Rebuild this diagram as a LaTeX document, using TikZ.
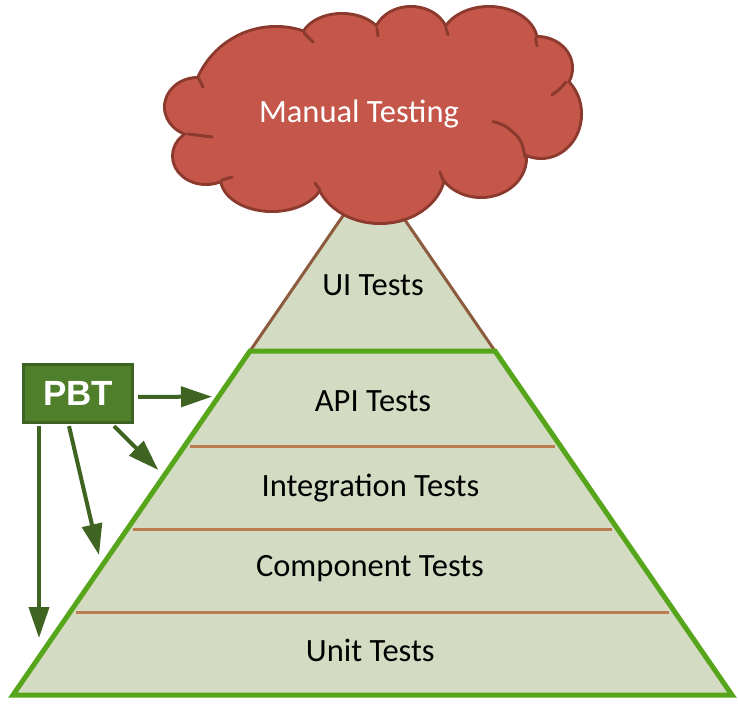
\documentclass[tikz,border=0pt]{standalone}
\usepackage{fontspec}
\setmainfont{Carlito}
\newfontfamily\pbtfont{Liberation Sans}
\usetikzlibrary{arrows.meta,calc}
\definecolor{pyrfill}{HTML}{D4DBC3}
\definecolor{pyrgreen}{HTML}{56A51A}
\definecolor{pyrbrown}{HTML}{8C5A3C}
\definecolor{layerline}{HTML}{BA7D4E}
\definecolor{cloudfill}{HTML}{C5574A}
\definecolor{cloudline}{HTML}{8C3A2E}
\definecolor{pbtfill}{HTML}{4F7F2B}
\definecolor{pbtline}{HTML}{3D6322}
\definecolor{arrowgreen}{HTML}{3F6320}
\begin{document}
\begin{tikzpicture}[x=1pt,y=-1pt,
  layerlabel/.style={anchor=base, inner sep=0pt, text=black, font=\fontsize{32.5}{39}\selectfont},
  cloudtext/.style={anchor=base, inner sep=0pt, text=white, font=\fontsize{32.5}{39}\selectfont},
  layersep/.style={draw=layerline, line width=3pt},
  cloudtail/.style={draw=cloudline, line width=3pt, line cap=round},
  pbtbox/.style={draw=pbtline, fill=pbtfill, line width=3.4pt, minimum width=109pt, minimum height=58pt, inner sep=0pt, text=white, font=\pbtfont\bfseries\fontsize{35}{42}\selectfont},
  pbtarrow/.style={draw=arrowgreen, line width=4pt, -{Triangle[length=31pt,width=20pt]}}]
\useasboundingbox (0,0) rectangle (738,706);
\fill[white] (0,0) rectangle (738,706);
% pyramid
\coordinate (apex) at (372.5,172.8);
\coordinate (tl) at (250,351);
\coordinate (tr) at (495,351);
\coordinate (bl) at (13,695);
\coordinate (br) at (732,695);
\fill[pyrfill] (apex) -- (bl) -- (br) -- cycle;
\draw[pyrbrown, line width=3pt] (tl) -- (apex) -- (tr);
\draw[layersep] (190.1,446.7) -- (554.7,446.7);
\draw[layersep] (133.4,529.3) -- (611.6,529.3);
\draw[layersep] (76.4,612.3) -- (668.6,612.3);
\draw[pyrgreen, line width=5pt] (tl) -- (tr) -- (br) -- (bl) -- cycle;
\node[layerlabel] (ui) at (373,295.7) {UI Tests};
\node[layerlabel] (api) at (373,411.7) {API Tests};
\node[layerlabel] (integ) at (370.5,496.7) {Integration Tests};
\node[layerlabel] (comp) at (370,576) {Component Tests};
\node[layerlabel] (unit) at (370.3,661) {Unit Tests};
% cloud
\foreach \cx/\cy/\rx/\ry in {198/107/32/28, 206/156/32/27, 272/178/50/32, 380/170/64/52, 481/158/44/38, 541/114/39/43, 537/68/34/30, 489/42/47/34, 411/38/36/30, 342/42/40/27, 276/112/84/84}
  \draw[cloudline, line width=6pt] (\cx,\cy) ellipse [x radius=\rx pt, y radius=\ry pt];
\foreach \cx/\cy/\rx/\ry in {198/107/32/28, 206/156/32/27, 272/178/50/32, 380/170/64/52, 481/158/44/38, 541/114/39/43, 537/68/34/30, 489/42/47/34, 411/38/36/30, 342/42/40/27, 276/112/84/84, 372/118/145/65}
  \fill[cloudfill] (\cx,\cy) ellipse [x radius=\rx pt, y radius=\ry pt];
\fill[cloudfill] (198,107) -- (206,156) -- (272,178) -- (380,170) -- (481,158) -- (541,114) -- (537,68) -- (489,42) -- (411,38) -- (342,42) -- (260,50) -- (215,80) -- cycle;
\draw[cloudtail] (199,79) -- (203,87);
\draw[cloudtail] (304,33) -- (313,42);
\draw[cloudtail] (377,29) -- (378,36);
\draw[cloudtail] (446,28) -- (448,35);
\draw[cloudtail] (535.5,38.3) -- (537,46);
\draw[cloudtail] (566,82) .. controls (561,88) .. (552,95);
\draw[cloudtail] plot[smooth] coordinates {(525,157) (522,144) (517,136) (505,126) (493,121.5)};
\draw[cloudtail] (443,180) -- (440,172);
\draw[cloudtail] (320,190) -- (315,183);
\draw[cloudtail] (222,180) -- (232,177);
\draw[cloudtail] (188,134) -- (212,137);
\node[cloudtext] (manual) at (359,122) {Manual Testing};
% PBT
\node[pbtbox] (pbt) at (78,393.4) {PBT};
\coordinate (t1) at (212,396.7);
\coordinate (t2) at (158.3,470);
\coordinate (t3) at (99,555);
\coordinate (t4) at (39,638);
\draw[pbtarrow] ($(pbt.east)+(4,3.4)$) -- (t1);
\draw[pbtarrow] ($(pbt.south)+(36,2)$) -- (t2);
\draw[pbtarrow] ($(pbt.south)+(-9,2)$) -- (t3);
\draw[pbtarrow] ($(pbt.south)+(-39,2)$) -- (t4);
\end{tikzpicture}
\end{document}
